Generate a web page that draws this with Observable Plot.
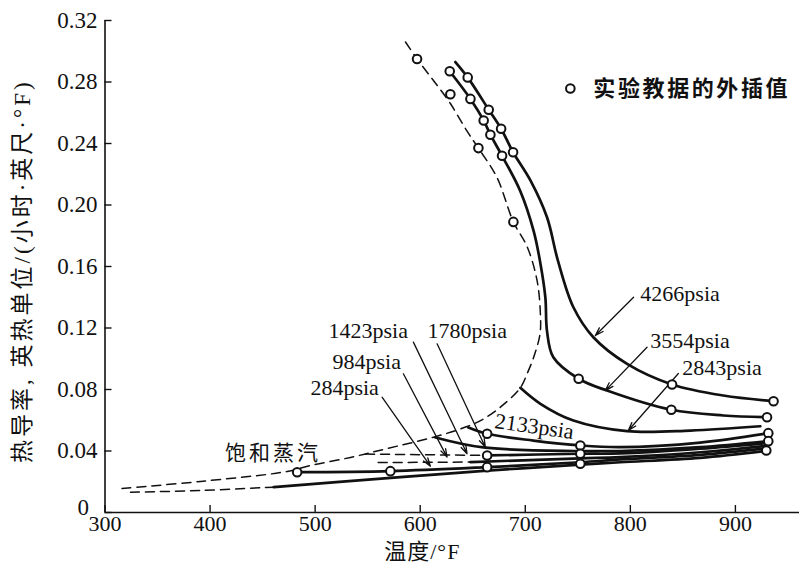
<!DOCTYPE html>
<html><head><meta charset="utf-8">
<script src="https://cdn.jsdelivr.net/npm/d3@7"></script>
<script src="https://cdn.jsdelivr.net/npm/@observablehq/plot@0.6"></script>
<style>
html,body{margin:0;padding:0;background:#fff;}
#chart svg{display:block;}
</style>
</head><body><div id="chart"></div>
<script>
// ---------- data (temperature °F, conductivity Btu/(h·ft·°F)) ----------
const xTicks = [300, 400, 500, 600, 700, 800, 900];
const yTicks = [0, 0.04, 0.08, 0.12, 0.16, 0.20, 0.24, 0.28, 0.32];
const yTickLabels = ["0", "0.04", "0.08", "0.12", "0.16", "0.20", "0.24", "0.28", "0.32"];

// saturated vapour curve (dashed)
const satT = [586, 597, 612.6, 628.7, 644.6, 655.4, 673, 688.7, 701.7, 711.2, 714.4, 714.0, 708, 701.7, 695.3, 676.3, 660.4, 644.6, 612.8, 568.5, 533.6, 495.5, 473.4, 390.9, 311.6];
const satK = [0.306, 0.295, 0.281, 0.266, 0.248, 0.237, 0.218, 0.189, 0.173, 0.151, 0.129, 0.116, 0.101, 0.0902, 0.0811, 0.0685, 0.0609, 0.0559, 0.049, 0.0416, 0.0358, 0.0306, 0.0267, 0.0202, 0.0154];

// isobars (solid)
const p4266T = [633.5, 645.2, 665.2, 677, 688.4, 704.9, 720.7, 731, 745.8, 764.8, 796.9, 839.7, 888.5, 936.3];
const p4266K = [0.293, 0.283, 0.262, 0.2496, 0.2343, 0.216, 0.192, 0.164, 0.1335, 0.114, 0.0967, 0.0833, 0.0761, 0.0724];
const p3554T = [628.1, 647.8, 660.4, 666.8, 677.9, 695.3, 708, 714.4, 719.1, 720.7, 726.7, 750.8, 777.8, 839, 888.5, 930.1];
const p3554K = [0.287, 0.269, 0.255, 0.2457, 0.232, 0.209, 0.183, 0.162, 0.140, 0.118, 0.101, 0.087, 0.0793, 0.0668, 0.0631, 0.062];
const p2843T = [695.3, 714.4, 745.8, 796.9, 857.1, 923.7];
const p2843K = [0.0811, 0.0707, 0.0598, 0.0529, 0.0533, 0.0561];
const p2133T = [645.9, 663.7, 707.7, 752.4, 790.5, 866.6, 931.3];
const p2133K = [0.0553, 0.0512, 0.0468, 0.0436, 0.0425, 0.0455, 0.0516];
const p1780T = [614.5, 660.1, 752.4, 790.5, 866.6, 931.3];
const p1780K = [0.0488, 0.0423, 0.0400, 0.0400, 0.0425, 0.0464];
const p1423T = [663.7, 752.4, 790.5, 866.6, 931];
const p1423K = [0.0371, 0.0382, 0.0384, 0.0415, 0.0452];
const p984T = [647.8, 752.4, 790.5, 866.6, 931];
const p984K = [0.0328, 0.0352, 0.0360, 0.0392, 0.0435];
const p284T = [482.9, 571.6, 663.7, 752.4, 790.5, 866.6, 930];
const p284K = [0.0262, 0.0269, 0.0295, 0.0327, 0.0345, 0.0375, 0.0418];
const pLowT = [460.6, 581.2, 663.7, 752.4, 790.5, 866.6, 929];
const pLowK = [0.0165, 0.023, 0.0272, 0.0312, 0.0327, 0.0355, 0.040];

// dashed extensions
const d1423T = [548, 663.7];
const d1423K = [0.038, 0.0371];
const d984T = [560, 647.8];
const d984K = [0.0325, 0.0328];
const dLowT = [324.3, 390.9, 460.6];
const dLowK = [0.0132, 0.0143, 0.0165];

// extrapolated experimental points (circles)
const circT = [597, 655.4, 688.7, 628.7,
  645.2, 665.2, 677, 688.4, 839.7, 936.3,
  628.1, 647.8, 660.4, 666.8, 677.9, 750.8, 839, 930.1,
  663.7, 663.7, 663.7, 752.4, 752.4, 752.4,
  931.3, 931.3, 929.4, 482.9, 571.6];
const circK = [0.295, 0.237, 0.189, 0.272,
  0.283, 0.262, 0.2496, 0.2343, 0.0833, 0.0724,
  0.287, 0.269, 0.255, 0.2457, 0.232, 0.087, 0.0668, 0.062,
  0.0512, 0.0371, 0.0295, 0.0436, 0.0382, 0.0317,
  0.0516, 0.0464, 0.0403, 0.0262, 0.0269];

// annotations
const labelText = ["4266psia", "3554psia", "2843psia", "1423psia", "1780psia", "984psia", "284psia"];
const labelT = [809.5, 819, 849.5, 512.7, 606.9, 516.5, 495.5];
const labelK = [0.1424, 0.1119, 0.0937, 0.1184, 0.1184, 0.0976, 0.0807];
const arrowT1 = [803.1, 815.9, 845.7, 593.5, 616.1, 584, 563.7];
const arrowK1 = [0.140, 0.1075, 0.0904, 0.1108, 0.1097, 0.0902, 0.075];
const arrowT2 = [766.7, 776.2, 798.1, 644.6, 662, 625.6, 609.7];
const arrowK2 = [0.1151, 0.0793, 0.0533, 0.0382, 0.0425, 0.036, 0.0301];

const xLabel = "温度/°F";
const yLabel = "热导率, 英热单位/(小时·英尺·°F)";
const satLabel = "饱和蒸汽";
const label2133 = "2133psia";
const legendText = "实验教据的外插值";

// ---------- tables ----------
const rows = (name, T, K) => T.map((t, i) => ({series: name, T: t, K: K[i]}));
const solidRows = [
  ...rows("4266", p4266T, p4266K), ...rows("3554", p3554T, p3554K),
  ...rows("2843", p2843T, p2843K), ...rows("2133", p2133T, p2133K),
  ...rows("1780", p1780T, p1780K), ...rows("1423", p1423T, p1423K),
  ...rows("984", p984T, p984K), ...rows("284", p284T, p284K),
  ...rows("low", pLowT, pLowK)
];
const dashedRows = [
  ...rows("sat", satT, satK), ...rows("d1423", d1423T, d1423K),
  ...rows("d984", d984T, d984K), ...rows("dlow", dLowT, dLowK)
];
const circRows = circT.map((t, i) => ({T: t, K: circK[i]}));
const labelRows = labelText.map((s, i) => ({s, T: labelT[i], K: labelK[i]}));
const arrowRows = arrowT1.map((t, i) => ({x1: t, y1: arrowK1[i], x2: arrowT2[i], y2: arrowK2[i]}));

const serif = "'Liberation Serif','Times New Roman',serif";
const cjk = "'Noto Sans CJK SC','Noto Sans',sans-serif";
const mixed = "'Liberation Serif','Noto Sans CJK SC',serif";
const ink = "#111";

const plot = Plot.plot({
  width: 799, height: 570,
  marginLeft: 104.5, marginRight: 0, marginTop: 20, marginBottom: 58,
  style: {fontFamily: serif, background: "#fff", color: ink, overflow: "visible"},
  x: {domain: [300, 961]},
  y: {domain: [0, 0.32]},
  marks: [
    Plot.ruleX([300], {stroke: ink, strokeWidth: 1.6}),
    Plot.ruleY([0], {stroke: ink, strokeWidth: 1.6}),
    Plot.axisX({ticks: xTicks, tickSize: -7, tickPadding: 10, fontSize: 22, tickFormat: d => String(d), label: null, stroke: ink, strokeWidth: 1.4}),
    Plot.axisY({ticks: yTicks, tickSize: -7, tickPadding: 14.5, fontSize: 23, tickFormat: d => d === 0 ? "" : yTickLabels[yTicks.indexOf(d)], label: null, stroke: ink, strokeWidth: 1.4}),
    Plot.text([yTicks[0]], {frameAnchor: "left", y: d => d, text: () => yTickLabels[0], dx: -16, dy: -5, textAnchor: "end", fontSize: 23, fontFamily: serif, fill: ink}),
    Plot.line(dashedRows, {x: "T", y: "K", z: "series", curve: "catmull-rom", stroke: ink, strokeWidth: 1.5, strokeDasharray: "9,6"}),
    Plot.line(solidRows, {x: "T", y: "K", z: "series", curve: "catmull-rom", stroke: ink, strokeWidth: 2.7}),
    Plot.arrow(arrowRows, {x1: "x1", y1: "y1", x2: "x2", y2: "y2", stroke: ink, strokeWidth: 1.3, headLength: 10, headAngle: 35}),
    Plot.dot(circRows, {x: "T", y: "K", r: 4.3, stroke: ink, strokeWidth: 2, fill: "#fff"}),
    Plot.text(labelRows, {x: "T", y: "K", text: "s", textAnchor: "start", fontSize: 22, fontFamily: serif, fill: ink}),
    Plot.text([label2133], {x: 708.7, y: 0.0559, textAnchor: "middle", rotate: 8, fontSize: 22, fontFamily: serif, fill: ink}),
    Plot.text([satLabel], {x: 459.8, y: 0.0387, textAnchor: "middle", fontSize: 21, fontFamily: cjk, fill: ink}),
    Plot.dot([0], {x: 742.9, y: 0.2758, r: 4.3, stroke: ink, strokeWidth: 2, fill: "#fff"}),
    Plot.text([legendText], {x: 764.8, y: 0.2758, textAnchor: "start", fontSize: 22, fontWeight: "bold", fontFamily: cjk, fill: ink}),
    Plot.text([xLabel], {frameAnchor: "bottom", x: 602, dy: 46, textAnchor: "middle", fontSize: 22, fontFamily: mixed, fill: ink}),
    Plot.text([yLabel], {frameAnchor: "left", y: 0.157, dx: -82, rotate: -90, textAnchor: "middle", fontSize: 23, fontFamily: mixed, fill: ink})
  ]
});
document.getElementById("chart").appendChild(plot);
const spacing = {[yLabel]: "3px", [legendText]: "2.6px", [satLabel]: "3px", [xLabel]: "1px"};
d3.select(plot).selectAll("text").each(function() {
  const s = spacing[this.textContent];
  if (s) this.setAttribute("letter-spacing", s);
});
</script>
</body></html>
